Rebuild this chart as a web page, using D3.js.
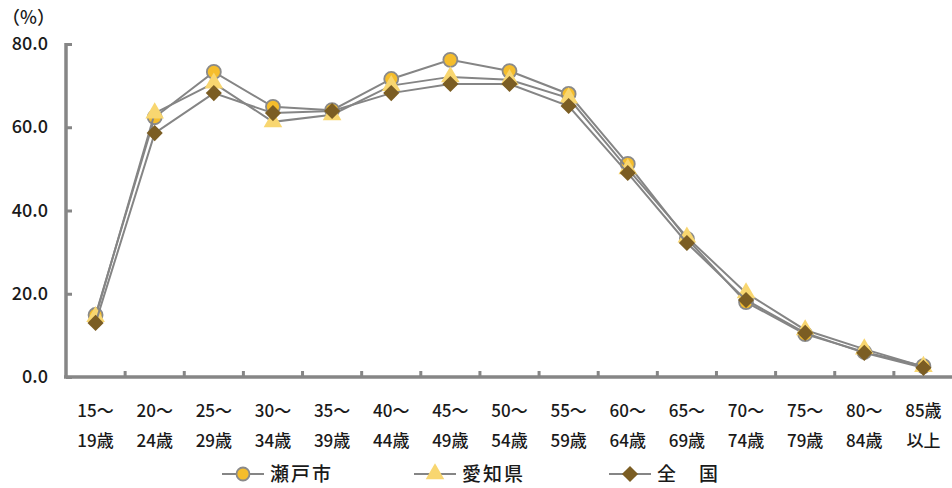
<!DOCTYPE html>
<html><head><meta charset="utf-8">
<script src="https://cdn.jsdelivr.net/npm/d3@7/dist/d3.min.js"></script>
<style>
body{margin:0;background:#fff;}
svg{display:block;font-family:"Noto Sans CJK JP","Noto Sans",sans-serif;}
</style></head>
<body><svg id="c" width="952" height="488"></svg>
<script>
const categories = ["15～|19歳","20～|24歳","25～|29歳","30～|34歳","35～|39歳","40～|44歳","45～|49歳","50～|54歳","55～|59歳","60～|64歳","65～|69歳","70～|74歳","75～|79歳","80～|84歳","85歳|以上"];
const seto     = [14.9, 62.4, 73.3, 64.9, 64.1, 71.6, 76.2, 73.5, 68.0, 51.2, 33.2, 18.0, 10.3, 6.0, 2.6];
const aichi    = [14.5, 63.4, 70.6, 61.3, 63.0, 70.0, 72.1, 71.4, 67.0, 50.0, 33.6, 20.2, 11.3, 6.7, 2.5];
const national = [13.0, 58.6, 68.2, 63.4, 63.9, 68.2, 70.4, 70.4, 65.1, 49.0, 32.2, 18.5, 10.6, 5.8, 2.2];
const yTicks = [0, 20, 40, 60, 80];
const seriesNames = ["瀬戸市", "愛知県", "全　国"];

const svg = d3.select("#c");
const x = d3.scaleBand().domain(categories).range([66, 953]);
const y = d3.scaleLinear().domain([0, 80]).range([377, 44]);
const axisColor = "#868686";

// Y axis
const gy = svg.append("g").attr("transform", "translate(66,0)")
  .call(d3.axisRight(y).tickValues(yTicks).tickSize(6).tickFormat(""));
gy.select(".domain").attr("stroke", axisColor).attr("stroke-width", 3.5).attr("d", "M0,43V377");
gy.selectAll(".tick line").attr("stroke", axisColor).attr("stroke-width", 3);
svg.append("g").selectAll("text").data(yTicks).join("text")
  .attr("x", 48).attr("y", d => y(d) + 6).attr("text-anchor", "end")
  .attr("font-size", 18).attr("font-weight", 500).attr("fill", "#1a1a1a").text(d => d.toFixed(1));
svg.append("text").attr("x", 2).attr("y", 24).attr("font-size", 18).attr("font-weight", 500)
  .attr("fill", "#1a1a1a").text("（%）");

// X axis
const gx = svg.append("g").attr("transform", "translate(0,377)")
  .call(d3.axisTop(x).tickSize(0).tickFormat(""));
gx.select(".domain").attr("stroke", axisColor).attr("stroke-width", 3.5).attr("d", "M64,0H952");
gx.selectAll(".tick line").remove();
svg.append("g").selectAll("line").data(categories.slice(1)).join("line")
  .attr("x1", d => x(d)).attr("x2", d => x(d)).attr("y1", 377).attr("y2", 371)
  .attr("stroke", axisColor).attr("stroke-width", 3);
const lbl = svg.append("g").selectAll("g").data(categories).join("g");
lbl.append("text").attr("x", d => x(d) + x.bandwidth()/2).attr("y", 417)
  .attr("text-anchor", "middle").attr("font-size", 17).attr("font-weight", 500).attr("fill", "#1a1a1a").text(d => d.split("|")[0]);
lbl.append("text").attr("x", d => x(d) + x.bandwidth()/2).attr("y", 447)
  .attr("text-anchor", "middle").attr("font-size", 17).attr("font-weight", 500).attr("fill", "#1a1a1a").text(d => d.split("|")[1]);

const cx = (d, i) => x(categories[i]) + x.bandwidth()/2;
const line = d3.line().x((d, i) => cx(d, i)).y(d => y(d));
const lineColor = "#858585";

function circleMark(g, data) {
  g.selectAll("circle").data(data).join("circle")
    .attr("cx", cx).attr("cy", d => y(d)).attr("r", 7)
    .attr("fill", "#F5BD2C").attr("stroke", "#8a8a8a").attr("stroke-width", 1.8);
}
const triSym = d3.symbol().type(d3.symbolTriangle).size(150);
const diaSym = d3.symbol().type(d3.symbolSquare).size(130);
function triMark(g, data) {
  g.selectAll("path.m").data(data).join("path").attr("class", "m")
    .attr("transform", (d, i) => `translate(${cx(d, i)},${y(d)})`)
    .attr("d", triSym()).attr("fill", "#F8D670");
}
function diaMark(g, data) {
  g.selectAll("path.m").data(data).join("path").attr("class", "m")
    .attr("transform", (d, i) => `translate(${cx(d, i)},${y(d)}) rotate(45)`)
    .attr("d", diaSym()).attr("fill", "#7B5D23");
}

const series = [
  {data: seto, mark: circleMark},
  {data: aichi, mark: triMark},
  {data: national, mark: diaMark}
];
series.forEach(s => {
  const g = svg.append("g");
  g.append("path").datum(s.data).attr("d", line).attr("fill", "none")
    .attr("stroke", lineColor).attr("stroke-width", 2);
  s.mark(g, s.data);
});

// Legend
const legX = [222, 414, 609];
const leg = svg.append("g");
seriesNames.forEach((name, i) => {
  const lx = legX[i], ly = 474;
  leg.append("line").attr("x1", lx).attr("x2", lx + 42).attr("y1", ly).attr("y2", ly)
    .attr("stroke", lineColor).attr("stroke-width", 2);
  const mx = lx + 21;
  if (i === 0) leg.append("circle").attr("cx", mx).attr("cy", ly).attr("r", 6.5)
    .attr("fill", "#F5BD2C").attr("stroke", "#8a8a8a").attr("stroke-width", 1.8);
  if (i === 1) leg.append("path").attr("transform", `translate(${mx},${ly})`).attr("d", triSym()).attr("fill", "#F8D670");
  if (i === 2) leg.append("path").attr("transform", `translate(${mx},${ly}) rotate(45)`).attr("d", diaSym()).attr("fill", "#7B5D23");
  leg.append("text").attr("x", lx + 48).attr("y", ly + 7).attr("font-size", 19).attr("font-weight", 500)
    .attr("letter-spacing", 2).attr("fill", "#1a1a1a").text(name);
});
</script></body></html>
